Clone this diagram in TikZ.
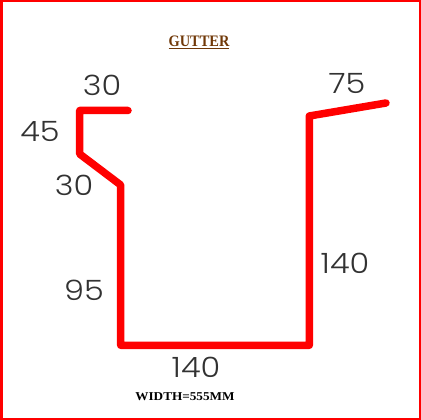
\documentclass[tikz,border=0pt]{standalone}
\usepackage{fontspec}
\setmainfont{Liberation Serif}
\newfontfamily\dimfont{Poppins Light}
\usetikzlibrary{positioning}
\definecolor{gutterred}{RGB}{255,0,0}
\definecolor{titlebrown}{RGB}{112,56,8}
\definecolor{dimgray}{RGB}{50,50,50}
\tikzset{
  dimlabel/.style={font=\dimfont\fontsize{28}{28}\selectfont,text=dimgray,inner sep=0pt,xscale=1.14},
  profile/.style={draw=gutterred,line width=7.5pt,line cap=round,line join=round},
}

\begin{document}
\begin{tikzpicture}[x=1pt,y=-1pt]

      \useasboundingbox (0,0) rectangle (421,420);
      \draw[gutterred,line width=3pt] (1,1) rectangle (420,419);

      \node[text=titlebrown,inner sep=0pt,xscale=.9,font=\bfseries\fontsize{16}{17}\selectfont] (title) at (199,42) {\underline{GUTTER}};
      \node[inner sep=0pt,xscale=1.1,font=\bfseries\fontsize{12}{14}\selectfont] (width) at (185,397) {WIDTH=555MM};

      % profile, from the short lip to the long one
      \coordinate (lip)    at (128,110.5);
      \coordinate (top)    at (79.7,110.5);
      \coordinate (fold)   at (79.7,154);
      \coordinate (step)   at (120.7,185);
      \coordinate (left)   at (120.7,345.3);
      \coordinate (right)  at (309.3,345.3);
      \coordinate (upper)  at (309.3,116);
      \coordinate (flange) at (386,103);

      \draw[profile] (lip) -- (top) -- (fold) -- (step) -- (left) -- (right) -- (upper) -- (flange);

      \node[dimlabel] (toplen)    at (102,85)  {30};
      \node[dimlabel] (foldlen)   at (40,131)  {45};
      \node[dimlabel] (steplen)   at (74,185)  {30};
      \node[dimlabel] (leftlen)   at (84,290)  {95};
      \node[dimlabel] (baselen)   at (196,367) {140};
      \node[dimlabel] (rightlen)  at (345,263) {140};
      \node[dimlabel] (flangelen) at (347,83)  {75};

    \end{tikzpicture}
\end{document}
